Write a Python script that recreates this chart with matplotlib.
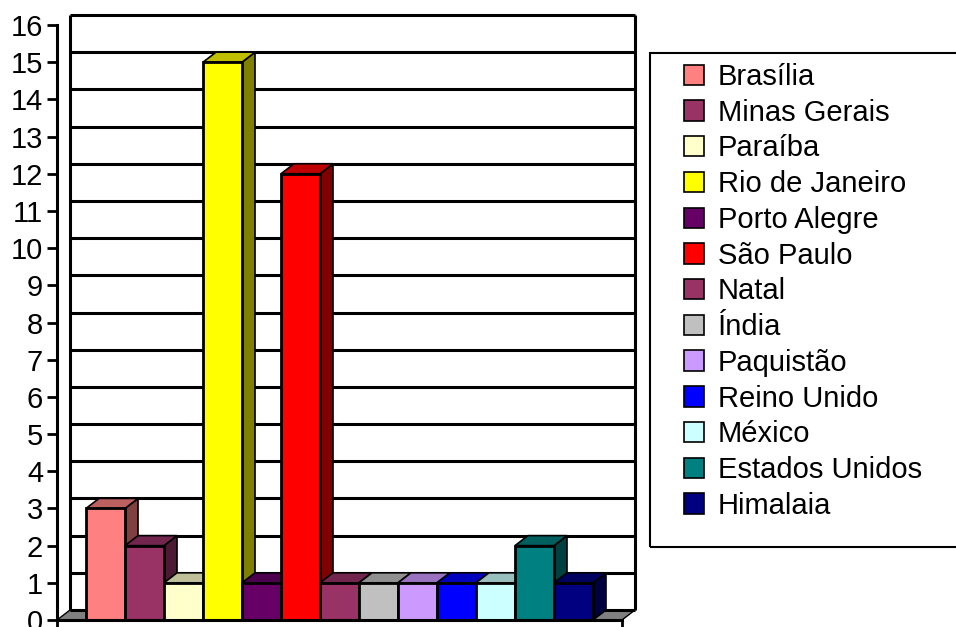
import matplotlib.pyplot as plt
from matplotlib.patches import Polygon, Rectangle, Patch
import matplotlib.colors as mcolors

plt.rcParams['font.family'] = ['Liberation Sans', 'DejaVu Sans']

# dados do gráfico
locais = ['Brasília', 'Minas Gerais', 'Paraíba', 'Rio de Janeiro', 'Porto Alegre',
          'São Paulo', 'Natal', 'Índia', 'Paquistão', 'Reino Unido', 'México',
          'Estados Unidos', 'Himalaia']
quantidade = [3, 2, 1, 15, 1, 12, 1, 1, 1, 1, 1, 2, 1]
cores = ['#FF8080', '#993366', '#FFFFCC', '#FFFF00', '#660066', '#FF0000', '#993366',
         '#C0C0C0', '#CC99FF', '#0000FF', '#CCFFFF', '#008080', '#000080']
y_ticks = list(range(0, 17))


def escurecer(cor, f):
    r, g, b = mcolors.to_rgb(cor)
    return (r * f, g * f, b * f)


W, H = 956, 627
fig = plt.figure(figsize=(W / 100, H / 100), dpi=100)
ax = fig.add_axes([57 / W, 7 / H, 565 / W, 595 / H])

x0, x1 = -0.744, len(locais) + 0.744
ax.set_xlim(x0, x1)
ax.set_ylim(0, 16)
dx, dy = 13 / 39, 10 / 37.2  # profundidade do efeito 3D

# chão
ax.add_patch(Polygon([(x0, 0), (x0 + dx, dy), (x1 + dx, dy), (x1, 0)], closed=True,
                     facecolor='#808080', edgecolor='black', lw=1, clip_on=False, zorder=1))

# parede do fundo com linhas de grade
ax.hlines([v + dy for v in y_ticks], x0 + dx, x1 + dx, colors='black', lw=2.2,
          clip_on=False, zorder=2)
ax.vlines([x0 + dx, x1 + dx], dy, 16 + dy, colors='black', lw=2.2, clip_on=False, zorder=2)

# barras 3D
for i, (v, c) in enumerate(zip(quantidade, cores)):
    lado = Polygon([(i + 1, 0), (i + 1 + dx, dy), (i + 1 + dx, v + dy), (i + 1, v)],
                   closed=True, facecolor=escurecer(c, 0.5), edgecolor='black', lw=1.2,
                   zorder=3, clip_on=False)
    topo = Polygon([(i, v), (i + dx, v + dy), (i + 1 + dx, v + dy), (i + 1, v)],
                   closed=True, facecolor=escurecer(c, 0.75), edgecolor='black', lw=1.2,
                   zorder=3, clip_on=False)
    ax.add_patch(lado)
    ax.add_patch(topo)
    ax.bar(i, v, width=1, align='edge', color=c, edgecolor='black', lw=2, zorder=3)

# eixos
for s in ['top', 'right']:
    ax.spines[s].set_visible(False)
for s in ['left', 'bottom']:
    ax.spines[s].set_linewidth(2.2)
    ax.spines[s].set_zorder(5)
ax.set_yticks(y_ticks)
ax.set_xticks([x0, x1])
ax.set_xticklabels(['', ''])
ax.tick_params(axis='both', length=7, width=2, direction='out', pad=3, labelsize=21)

# legenda
fig.add_artist(Rectangle((650 / W, (H - 547) / H), 0.4, (547 - 53) / H,
                         transform=fig.transFigure, fill=False, edgecolor='black', lw=1.5))
handles = [Patch(facecolor=c, edgecolor='black', lw=1.2) for c in cores]
fig.legend(handles, locais, loc='upper left', bbox_to_anchor=(684 / W, 1 - 63 / H),
           frameon=False, fontsize=21, handlelength=0.7, handleheight=0.7,
           handletextpad=0.45, labelspacing=0.265, borderpad=0, borderaxespad=0)

plt.savefig('out.png', dpi=100)
plt.close()
